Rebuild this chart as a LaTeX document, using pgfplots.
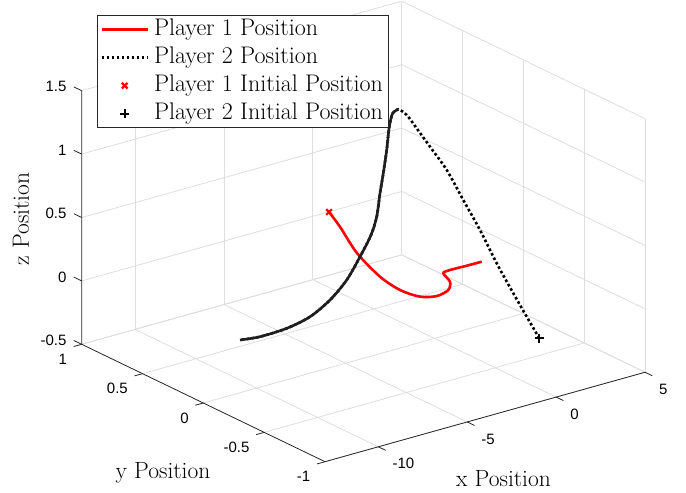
\documentclass[border=0pt]{standalone}
\usepackage{fontspec}
\usepackage{pgfplots}
\pgfplotsset{compat=1.18}
\newfontfamily\helv{Liberation Sans}
\definecolor{gridc}{rgb}{0.87,0.87,0.87}
\definecolor{axc}{rgb}{0.15,0.15,0.15}
\newcommand{\tickfont}{\helv\fontsize{15bp}{18bp}\selectfont}
\newcommand{\labfont}{\fontsize{23.5bp}{27bp}\selectfont}
\newcommand{\legfont}{\fontsize{24bp}{27bp}\selectfont}
\pgfplotsset{
  markleg/.style={legend image code/.code={\path[draw=none] (0bp,0bp) -- (46bp,0bp); \draw[##1] plot coordinates {(23bp,0bp)};}},
  lineleg/.style={legend image code/.code={\draw[##1] (0bp,0bp) -- (46bp,0bp);}},
}
\begin{document}
\begin{tikzpicture}
\begin{axis}[
  x={(17.78bp,4.97bp)}, y={(-121.65bp,58.7bp)}, z={(0bp,126.8bp)},
  xmin=-13, xmax=5, ymin=-1, ymax=1, zmin=-0.5, zmax=1.5,
  xtick={-10,-5,0,5}, ytick={-1,-0.5,0,0.5,1}, ztick={-0.5,0,0.5,1,1.5},
  xticklabels={}, yticklabels={}, zticklabels={},
  major tick length=0pt,
  grid=major, major grid style={gridc, line width=0.8bp},
  axis line style={draw=none},
  clip=false,
  legend cell align=left,
  legend style={at={(0.0272,0.9695)}, anchor=north west, draw=axc, line width=0.8bp,
    fill=white, font=\legfont, inner xsep=3bp, inner ysep=0bp, row sep=0bp, column sep=2.5bp,
    nodes={inner xsep=2.5bp, inner ysep=3bp, text height=16.5bp, text depth=5.5bp}},
  lineleg,
]
\addplot3[red, line width=2.6bp, smooth, tension=0.5] coordinates {
(-5.93,0,0.729) (-5.31,0,0.587) (-4.36,0,0.344) (-3.065,0,0.107) (-1.94,0,-0.042)
(-0.815,0,-0.139) (0.124,0,-0.171) (0.777,0,-0.149) (0.872,0,-0.087) (0.496,0,-0.006)
(0.872,0,0.005) (1.812,0,0.002) (2.655,0,0.001)};
\addlegendentry{Player 1 Position}
\addplot3[black, line width=2.6bp, dash pattern=on 2.6bp off 2.4bp, smooth, tension=0.5] coordinates {
(-0.947,-1,0.001) (-0.972,-0.9,0.126) (-1.041,-0.8,0.267) (-1.290,-0.7,0.467) (-1.545,-0.6,0.693)
(-1.801,-0.5,0.893) (-2.050,-0.4,1.094) (-2.305,-0.3,1.241) (-2.369,-0.2,1.342) (-2.247,-0.1,1.396)
(-2.035,0,1.386) (-2.350,0,1.367) (-2.542,0,1.269) (-2.688,0,1.091) (-2.879,0,0.915)
(-3.065,0,0.764) (-3.250,0,0.587) (-3.571,0,0.455) (-4.189,0,0.308) (-4.938,0,0.154)
(-5.877,0,0.033) (-7.002,0,-0.055) (-8.312,0,-0.095) (-9.814,0,-0.102) (-10.939,0,-0.084)};
\addlegendentry{Player 2 Position}
\addplot3[black!88, line width=2.6bp, smooth, tension=0.5, forget plot] coordinates {
(-2.035,0,1.386) (-2.350,0,1.367) (-2.542,0,1.269) (-2.688,0,1.091) (-2.879,0,0.915)
(-3.065,0,0.764) (-3.250,0,0.587) (-3.571,0,0.455) (-4.189,0,0.308) (-4.938,0,0.154)
(-5.877,0,0.033) (-7.002,0,-0.055) (-8.312,0,-0.095) (-9.814,0,-0.102) (-10.939,0,-0.084)};
\addplot3[red, only marks, mark=x, mark size=4bp, line width=2.2bp, markleg]
  coordinates {(-5.93,0,0.729)};
\addlegendentry{Player 1 Initial Position}
\addplot3[black, only marks, mark=+, mark size=4.3bp, line width=2.2bp, markleg]
  coordinates {(-0.947,-1,0.001)};
\addlegendentry{Player 2 Initial Position}
% axis lines
\draw[axc, line width=0.8bp] (axis cs:-13,1,1.5) -- (axis cs:-13,1,-0.5) -- (axis cs:-13,-1,-0.5) -- (axis cs:5,-1,-0.5);
% ticks and labels
\pgfplotsinvokeforeach{-10,-5,0,5}{
  \draw[axc, line width=0.8bp] (axis cs:#1,-1,-0.5) -- (axis cs:#1,-1.06,-0.5);
  \node[anchor=west, font=\tickfont, inner sep=0pt, xshift=14bp, yshift=-17bp] at (axis cs:#1,-1,-0.5) {#1};
}
\pgfplotsinvokeforeach{-1,-0.5,0,0.5,1}{
  \draw[axc, line width=0.8bp] (axis cs:-13,#1,-0.5) -- (axis cs:-13.45,#1,-0.5);
  \node[anchor=east, font=\tickfont, inner sep=0pt, xshift=-14.5bp, yshift=-15bp] at (axis cs:-13,#1,-0.5) {#1};
}
\pgfplotsinvokeforeach{-0.5,0,0.5,1,1.5}{
  \draw[axc, line width=0.8bp] (axis cs:-13,1,#1) -- (axis cs:-13,1.065,#1);
  \node[anchor=east, font=\tickfont, inner sep=0pt, xshift=-15bp, yshift=4bp] at (axis cs:-13,1,#1) {#1};
}
\coordinate (O) at (axis cs:-13,1,-0.5);
\end{axis}
\node[anchor=base, font=\labfont, inner sep=0pt] at ([shift={(421.8bp,-141.7bp)}]O) {x Position};
\node[anchor=base, font=\labfont, inner sep=0pt] at ([shift={(81.3bp,-133.7bp)}]O) {y Position};
\node[anchor=base, font=\labfont, inner sep=0pt, rotate=90] at ([shift={(-52.7bp,125.3bp)}]O) {z Position};
\pgfresetboundingbox
\path[use as bounding box] (O) ++(-81.7bp,344.3bp) rectangle ++(686bp,-493bp);
\end{tikzpicture}
\end{document}
